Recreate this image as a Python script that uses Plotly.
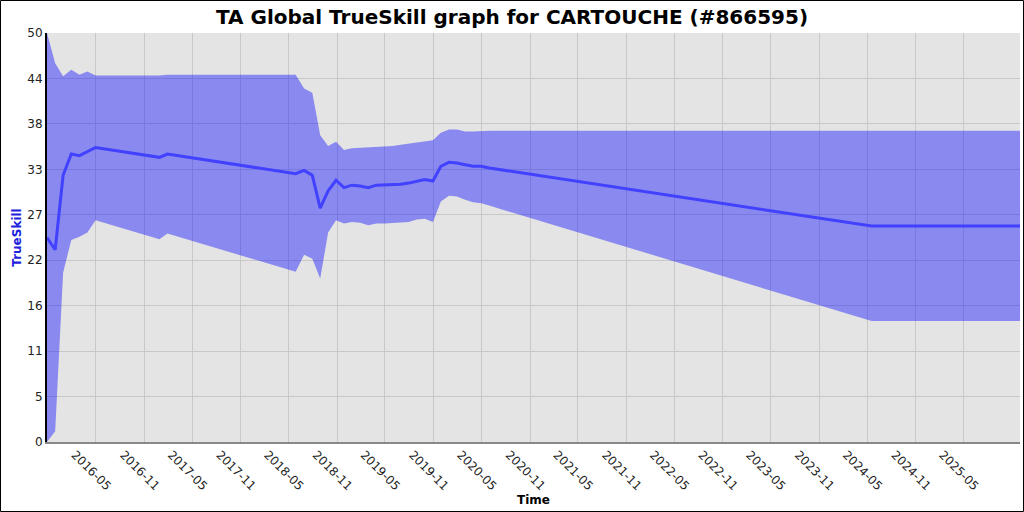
import plotly.graph_objects as go

# TrueSkill history (mean with lower/upper band)
dates = [
    "2015-10-29", "2015-11-29", "2015-12-29", "2016-01-29", "2016-02-29",
    "2016-03-30", "2016-04-30", "2016-12-28", "2017-01-27", "2018-05-28",
    "2018-06-29", "2018-07-30", "2018-08-29", "2018-09-28", "2018-10-28",
    "2018-11-27", "2018-12-27", "2019-01-27", "2019-02-27", "2019-03-30",
    "2019-04-30", "2019-05-30", "2019-06-30", "2019-07-30", "2019-08-30",
    "2019-09-29", "2019-10-30", "2019-11-29", "2019-12-30", "2020-01-29",
    "2020-02-29", "2020-03-30", "2020-04-30", "2020-05-30", "2024-05-18",
    "2025-12-01",
]
mean = [
    25.0, 23.5, 32.6, 35.2, 35.0,
    35.5, 36.0, 34.8, 35.2, 32.8,
    33.2, 32.6, 28.6, 30.7, 32.0,
    31.1, 31.4, 31.3, 31.1, 31.4,
    31.45, 31.5, 31.5, 31.65, 31.9,
    32.1, 31.9, 33.7, 34.2, 34.1,
    33.9, 33.7, 33.7, 33.5, 26.4,
    26.4,
]
lower = [
    0.0, 1.3, 20.7, 24.7, 25.1,
    25.6, 27.1, 24.8, 25.5, 20.8,
    22.9, 22.4, 20.0, 25.6, 27.1,
    26.7, 26.9, 26.8, 26.5, 26.7,
    26.7, 26.75, 26.8, 26.9, 27.2,
    27.3, 26.9, 29.4, 30.1, 30.0,
    29.6, 29.3, 29.2, 28.9, 14.8,
    14.8,
]
upper = [
    50.0, 46.3, 44.7, 45.5, 44.9,
    45.3, 44.8, 44.8, 44.9, 44.9,
    43.2, 42.7, 37.5, 36.2, 36.7,
    35.7, 35.9, 35.95, 36.0, 36.05,
    36.1, 36.2, 36.35, 36.5, 36.65,
    36.8, 36.9, 37.8, 38.2, 38.2,
    37.95, 37.95, 38.0, 38.05, 38.05,
    38.05,
]

x_tickvals = [f"{y}-{m:02d}-01" for y in range(2016, 2026) for m in (5, 11)][:-1]
y_tickvals = [i * 50 / 9 for i in range(10)]
y_ticktext = ["0", "5", "11", "16", "22", "27", "33", "38", "44", "50"]

W, H = 1024, 512
M = dict(l=47, r=4, t=33, b=70)
_FONT = "DejaVu Sans"
_FILL = "rgba(0,0,255,0.40)"
_LINE = "#4141ff"

fig = go.Figure()
fig.add_trace(go.Scatter(
    x=dates, y=upper, mode="lines", line=dict(width=0, color=_FILL),
    hoverinfo="skip", showlegend=False,
))
fig.add_trace(go.Scatter(
    x=dates, y=lower, mode="lines", line=dict(width=0, color=_FILL),
    fill="tonexty", fillcolor=_FILL, hoverinfo="skip", showlegend=False,
))
fig.add_trace(go.Scatter(
    x=dates, y=mean, mode="lines", line=dict(width=3, color=_LINE),
    name="TrueSkill", showlegend=False,
))

pw = W - M["l"] - M["r"]
ph = H - M["t"] - M["b"]
# black frame round the whole image
fig.add_shape(
    type="rect", xref="paper", yref="paper",
    x0=(-M["l"] + 0.5) / pw, x1=1 + (M["r"] - 0.5) / pw,
    y0=(-M["b"] + 0.5) / ph, y1=1 + (M["t"] - 0.5) / ph,
    line=dict(color="black", width=1), layer="above",
)

fig.update_layout(
    width=W, height=H,
    margin=M,
    paper_bgcolor="white",
    plot_bgcolor="#e4e4e4",
    font=dict(family=_FONT, size=12, color="#222222"),
    title=dict(
        text="<b>TA Global TrueSkill graph for CARTOUCHE (#866595)</b>",
        x=0.5, xanchor="center", y=1 - 17 / H, yanchor="middle",
        font=dict(family=_FONT, size=20, color="black"),
    ),
)
fig.update_xaxes(
    type="date", automargin=False,
    range=["2015-10-29", "2025-12-01"],
    tickvals=x_tickvals, tickformat="%Y-%m",
    tickangle=45, ticklabelshift=-21, ticklabelstandoff=-1,
    tickfont=dict(size=12, color="#222222"),
    showgrid=True, gridcolor="#c8c8c8", gridwidth=1,
    showline=True, linecolor="#888888", linewidth=2,
    zeroline=False, ticks="",
    title=dict(text="<b>Time</b>", font=dict(size=12, color="black"), standoff=2),
)
fig.update_yaxes(
    automargin=False,
    range=[0, 50],
    tickvals=y_tickvals, ticktext=y_ticktext,
    tickfont=dict(size=12, color="#222222"),
    showgrid=True, gridcolor="#c8c8c8", gridwidth=1,
    showline=True, linecolor="black", linewidth=2,
    zeroline=False, ticks="",
    title=dict(text="<b>TrueSkill</b>", font=dict(size=12, color="#2222dd"), standoff=3),
)

# drop the browser's default 8px body margin so the figure sits at the window origin
fig.write_html(
    "out.html",
    config={"displayModeBar": False},
    post_script="document.body.style.margin='0';",
)
